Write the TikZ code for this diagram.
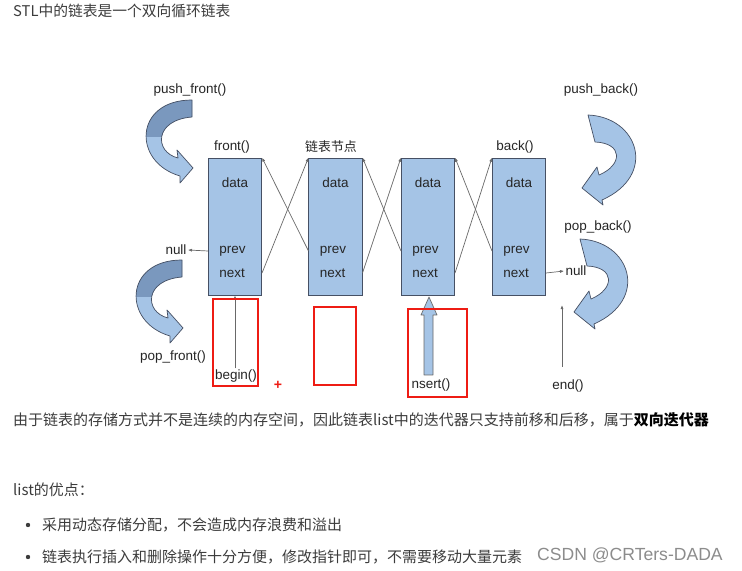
\documentclass[tikz,border=0pt]{standalone}
\usepackage{fontspec}
\setmainfont{Liberation Sans}
\newfontfamily\cjk{Noto Sans CJK SC}
\usetikzlibrary{arrows.meta}

\definecolor{boxfill}{RGB}{165,196,230}
\definecolor{boxline}{RGB}{70,80,100}
\definecolor{linkgray}{RGB}{105,105,105}
\definecolor{arrowdark}{RGB}{122,152,190}
\definecolor{markred}{RGB}{238,28,20}
\definecolor{bodytext}{RGB}{60,60,60}
\definecolor{marktext}{RGB}{140,140,140}

\begin{document}
\begin{tikzpicture}[x=0.03cm,y=-0.03cm]
            \tikzset{
              listbox/.style={draw=boxline,fill=boxfill,line width=0.6pt,minimum width=1.6cm,minimum height=4.11cm,inner sep=0pt},
              lbl/.style={font=\fontsize{11.5}{13}\selectfont,text=black!85,inner sep=1pt},
              link/.style={draw=linkgray,line width=0.6pt,-{Latex[length=3.5pt,width=2.6pt]}},
              redmark/.style={draw=markred,line width=2.2pt},
              body/.style={font=\cjk\fontsize{12.8}{15}\selectfont,text=bodytext,anchor=west,inner sep=0pt},
              dot/.style={circle,fill=bodytext,inner sep=0pt,minimum size=0.13cm},
              bendleft/.pic={
                \path[save path=\bendp] (0,0) .. controls (-58,0) and (-60,62) .. (-12,76) -- (-12,83) -- (1,68)
                  -- (-15,50) -- (-14,58) .. controls (-38,52) and (-38,20) .. (0,17) -- cycle;
                \fill[boxfill,use path=\bendp];
                \begin{scope}
                  \clip (-70,-5) rectangle (10,37);
                  \fill[arrowdark,use path=\bendp];
                \end{scope}
                \draw[boxline,line width=0.6pt,line join=round,use path=\bendp];
              },
              bendright/.pic={
                \draw[boxline,fill=boxfill,line width=0.6pt,line join=round] (0,0) .. controls (50,2) and (70,60) .. (14,85)
                  -- (15,90) -- (-6,73) -- (9,52) -- (11,60) .. controls (35,50) and (35,28) .. (7,27) -- cycle;
              }
            };
            \useasboundingbox (0,0) rectangle (742,571);
            \fill[white] (0,0) rectangle (742,571);

            % the four list nodes
            \foreach \i/\cx in {1/235,2/335.5,3/428,4/519}{
              \node[listbox] (n\i) at (\cx,226.5) {};
              \node[lbl] (d\i) at (\cx,183) {data};
              \node[lbl,anchor=west] (p\i) at (\cx-17,251) {prev};
              \node[lbl,anchor=west] (x\i) at (\cx-17,273) {next};
            }
            \node[lbl] (fr) at (232,147) {front()};
            \node[lbl,font=\cjk\fontsize{11}{13}\selectfont] (nd) at (331,147) {链表节点};
            \node[lbl] (bk) at (515,147) {back()};

            \foreach \i/\j in {1/2,2/3,3/4}{
              \draw[link] (n\j.west |- p\j) -- (n\i.north east);
              \draw[link] (n\i.east |- x\i) -- (n\j.north west);
            }

            \node[lbl] (nl) at (176,250) {null};
            \node[lbl] (nr) at (576,271) {null};
            \draw[link] (n1.west |- p1) -- (nl.east);
            \draw[link] (n4.east |- x4) -- (nr.west);

            % curved arrows
            \node[lbl] (pf) at (190,90) {push\_front()};
            \node[lbl] (pof) at (173,357) {pop\_front()};
            \node[lbl] (pb) at (601,90) {push\_back()};
            \node[lbl] (pob) at (598,227) {pop\_back()};
            \pic at (192,100) {bendleft};
            \pic at (182,260) {bendleft};
            \pic at (588,115) {bendright};
            \pic at (580,239) {bendright};

            % iterators
            \node[lbl] (bg) at (236,376) {begin()};
            \node[lbl] (ins) at (431,385) {nsert()};
            \node[lbl] (ed) at (568,386) {end()};
            \draw[link] (n1.south |- bg.north) -- (n1.south);
            \coordinate (endtop) at (562,305);
            \coordinate (endfoot) at (562,367);
            \draw[link] (endfoot) -- (endtop);
            \draw[draw=linkgray,fill=boxfill,line width=0.6pt,line join=round]
              (424,375) -- (433,375) -- (433,315) -- (437,315) -- (429,297) -- (421,315) -- (424,315) -- cycle;

            \draw[redmark] (213,299) rectangle (258,386);
            \draw[redmark] (314,307) rectangle (356,385);
            \draw[redmark] (408,309) rectangle (467,397);
            \node[text=markred,font=\fontsize{12}{14}\selectfont\bfseries] (plus) at (278,385) {+};

            % text around the picture
            \node[body,font=\cjk\fontsize{12.6}{15}\selectfont] (title) at (13,11) {STL中的链表是一个双向循环链表};
            \node[body] (note) at (13,420) {由于链表的存储方式并不是连续的内存空间，因此链表list中的迭代器只支持前移和后移，属于{\bfseries\color{black}双向迭代器}};
            \node[body] (pros) at (13,490) {list的优点：};
            \node[dot] (dot1) at (28,525) {};
            \node[body] (b1) at (42,525) {采用动态存储分配，不会造成内存浪费和溢出};
            \node[dot] (dot2) at (28,557) {};
            \node[body] (b2) at (42,557) {链表执行插入和删除操作十分方便，修改指针即可，不需要移动大量元素};
            \node[anchor=west,inner sep=0pt,text=marktext,font=\fontsize{15}{17}\selectfont] (wm) at (537,555) {CSDN @CRTers-DADA};
\end{tikzpicture}
\end{document}
